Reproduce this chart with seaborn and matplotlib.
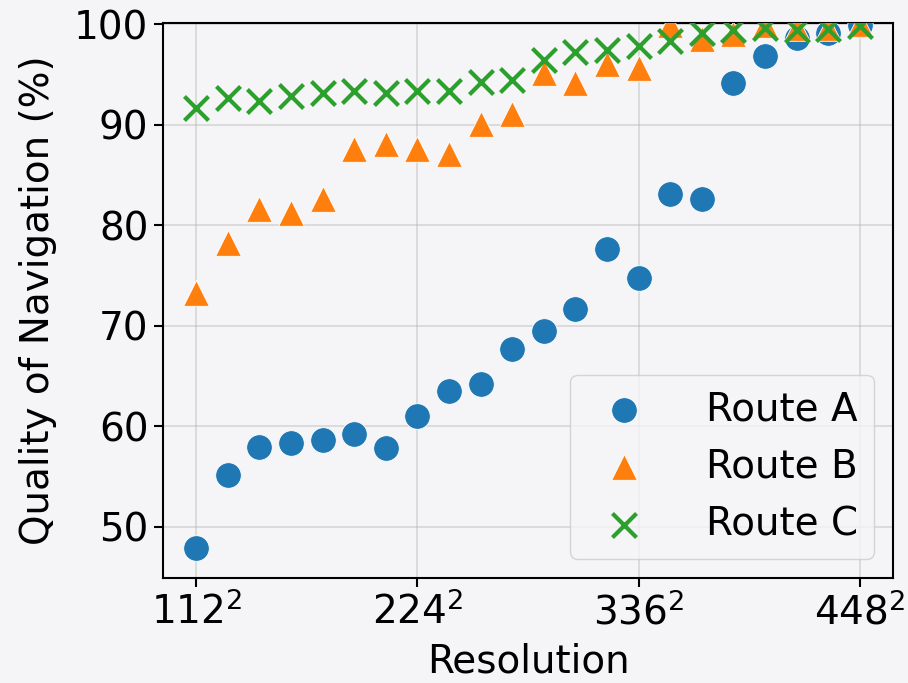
import numpy as np
import matplotlib
matplotlib.use("Agg")
import matplotlib.pyplot as plt
import seaborn as sns

# resolution side length (image is side^2)
resolution = [112, 128, 144, 160, 176, 192, 208, 224, 240, 256, 272,
              288, 304, 320, 336, 352, 368, 384, 400, 416, 432, 448]

route_a = [47.9, 55.1, 57.9, 58.3, 58.6, 59.2, 57.8, 61.0, 63.5, 64.2, 67.7,
           69.5, 71.7, 77.6, 74.7, 83.1, 82.6, 94.1, 96.8, 98.6, 99.1, 99.9]
route_b = [73.2, 78.2, 81.6, 81.2, 82.6, 87.6, 88.1, 87.6, 87.1, 90.1, 91.1,
           95.1, 94.1, 96.0, 95.6, 99.9, 98.5, 99.0, 99.9, 99.6, 99.6, 100.0]
route_c = [91.6, 92.6, 92.3, 92.8, 93.1, 93.3, 93.1, 93.3, 93.3, 94.2, 94.4,
           96.4, 97.2, 97.4, 97.8, 98.3, 99.1, 99.4, 99.6, 99.4, 99.5, 99.8]

route_names = ["Route A", "Route B", "Route C"]
route_colors = ["#1f77b4", "#ff7f0e", "#2ca02c"]
route_markers = ["o", "^", "x"]
tick_values = [112, 224, 336, 448]

sns.set_style("ticks")
plt.rcParams["font.family"] = ["DejaVu Sans"]
plt.rcParams["mathtext.fontset"] = "dejavusans"
for key in ["text.color", "axes.labelcolor", "xtick.color", "ytick.color"]:
    plt.rcParams[key] = "black"

fs = 28
bg = "#f5f5f7"
fig = plt.figure(figsize=(9.08, 6.83), dpi=100, facecolor=bg)
ax = fig.add_axes([0.1795, 0.1537, 0.804, 0.8126])
ax.set_facecolor(bg)

for name, vals, col, mk in zip(route_names, [route_a, route_b, route_c],
                               route_colors, route_markers):
    if mk == "x":
        sns.scatterplot(x=resolution, y=vals, color=col, marker=mk, s=300,
                        linewidth=3, label=name, ax=ax, zorder=3)
    else:
        sns.scatterplot(x=resolution, y=vals, color=col, marker=mk, s=340,
                        edgecolor="white", linewidth=0.6, label=name, ax=ax,
                        zorder=3)

ax.grid(True, color="#b0b0b0", alpha=0.45, linewidth=1.2, zorder=0)
for side in ax.spines.values():
    side.set_color("black")
    side.set_linewidth(1.5)

ax.set_xticks(tick_values)
ax.set_xticklabels([f"${v}^2$" for v in tick_values])
ax.set_xlim(95.2, 464.8)
ax.set_ylim(44.9, 100.1)
ax.set_yticks([50, 60, 70, 80, 90, 100])
ax.tick_params(labelsize=fs, length=6.5, width=1.5, pad=4)
ax.set_xlabel("Resolution", fontsize=fs, labelpad=7)
ax.set_ylabel("Quality of Navigation (%)", fontsize=fs, labelpad=12)

leg = ax.legend(loc="lower right", fontsize=fs, markerscale=1.0,
                handletextpad=1.1, labelspacing=0.5, borderaxespad=0.5,
                borderpad=0.4, frameon=True, fancybox=True)
leg.get_frame().set_facecolor(bg)
leg.get_frame().set_alpha(0.8)

fig.savefig("out.png", dpi=100, facecolor=bg)
